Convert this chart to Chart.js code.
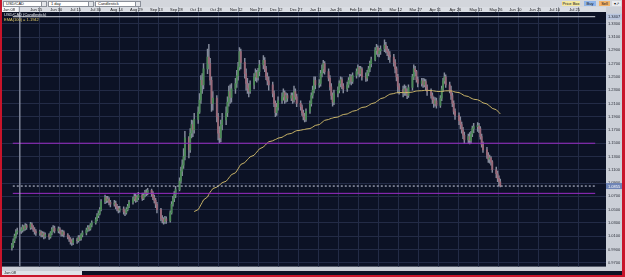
<!DOCTYPE html>
<html>
<head>
<meta charset="utf-8">
<script src="https://cdn.jsdelivr.net/npm/chart.js@4.4.0/dist/chart.umd.min.js"></script>
<style>
  body { margin: 0; width: 625px; height: 277px; overflow: hidden; background: #c8142a; font-family: 'Liberation Sans', Arial, sans-serif; }
  #bar { position: absolute; left: 2px; top: 0; width: 620px; height: 7px; background: #d3d6dc; }
  .dd { position: absolute; top: 1px; height: 4px; background: #fff; border: 1px solid #8a8f99; font-size: 4px; line-height: 4px; padding-left: 2px; color: #111; box-sizing: content-box; }
  .dd b { position: absolute; right: 0; top: 0; width: 4px; height: 4px; background: #e4e6ea; border-left: 1px solid #8a8f99; }
  .btn { position: absolute; top: 1px; height: 5px; font-size: 4px; line-height: 5px; text-align: center; color: #111; }
  #wrap { position: absolute; left: 2px; top: 7px; width: 620px; height: 264px; }
  #foot { position: absolute; left: 2px; top: 271px; width: 620px; height: 4px; background: #0c1225; }
  #foot span { position: absolute; left: 0; top: 0; width: 78px; height: 4px; background: #dfe2e8; font-size: 4px; line-height: 4px; padding-left: 2px; color: #222; }
</style>
</head>
<body>
<div id="bar">
  <div class="dd" style="left:1px;width:40px">USD/CAD<b></b></div>
  <div class="dd" style="left:46px;width:42px">1 day<b></b></div>
  <div class="dd" style="left:93px;width:42px">Candlestick<b></b></div>
  <div class="btn" style="left:560px;width:18px;background:#f4e8a0">Price Box</div>
  <div class="btn" style="left:582px;width:12px;background:#8fb4e8">Buy</div>
  <div class="btn" style="left:597px;width:11px;background:#f2b36a">Sell</div>
  <div class="btn" style="left:610px;width:9px;background:#e8eaee">▾↗</div>
</div>
<div id="wrap"><canvas id="c" width="620" height="264"></canvas></div>
<div id="foot"><span>Jun 08</span></div>
<script>
// ===== data: USD/CAD daily candles, Jun 2 2008 .. Jun 4 2009 =====
const firstOpen = 0.992;
const closes = [
  0.996,1.003,1.010,1.016,1.018, 1.019,1.024,1.021,1.026,1.023, 1.028,1.024,1.020,1.017,1.015,
  1.016,1.012,1.014,1.010,1.012, 1.009,1.015,1.020,1.022,1.018, 1.021,1.017,1.013,1.016,1.012,
  1.009,1.006,1.002,1.000,1.004, 1.003,1.008,1.006,1.012,1.015, 1.019,1.023,1.021,1.027,1.030,
  1.035,1.041,1.044,1.050,1.062, 1.068,1.064,1.066,1.061,1.058, 1.060,1.055,1.052,1.049,1.051,
  1.047,1.045,1.050,1.055,1.061, 1.066,1.070,1.064,1.068,1.072, 1.067,1.072,1.076,1.074,1.079,
  1.074,1.068,1.064,1.058,1.050, 1.037,1.035,1.032,1.036,1.033, 1.045,1.058,1.066,1.072,1.080,
  1.093,1.108,1.117,1.130,1.158, 1.140,1.165,1.178,1.170,1.186, 1.197,1.215,1.245,1.238,1.262,
  1.280,1.270,1.245,1.210,1.218, 1.190,1.165,1.158,1.178,1.185, 1.196,1.212,1.228,1.219,1.232,
  1.240,1.252,1.265,1.288,1.272, 1.255,1.240,1.233,1.228,1.238, 1.250,1.256,1.249,1.258,1.268,
  1.275,1.262,1.250,1.244,1.238, 1.225,1.210,1.196,1.204,1.214, 1.220,1.226,1.215,1.222,1.218,
  1.222,1.215,1.228,1.220,1.210, 1.205,1.196,1.190,1.186,1.198, 1.210,1.222,1.230,1.245,1.238,
  1.240,1.255,1.262,1.270,1.258, 1.248,1.235,1.222,1.212,1.225, 1.230,1.240,1.246,1.236,1.232,
  1.238,1.245,1.250,1.243,1.252, 1.258,1.264,1.255,1.262,1.250, 1.248,1.256,1.262,1.270,1.276,
  1.290,1.294,1.285,1.289,1.292, 1.298,1.292,1.288,1.283,1.280, 1.272,1.262,1.250,1.236,1.231,
  1.226,1.232,1.228,1.222,1.234, 1.250,1.262,1.258,1.246,1.240, 1.244,1.238,1.243,1.235,1.228,
  1.222,1.216,1.210,1.214,1.207, 1.218,1.232,1.244,1.250,1.238, 1.230,1.222,1.210,1.198,1.192,
  1.184,1.178,1.170,1.162,1.155, 1.160,1.154,1.164,1.172,1.175, 1.176,1.172,1.160,1.148,1.140,
  1.132,1.126,1.128,1.122,1.110, 1.104,1.097,1.092,1.0855
];
const highs = [
  0.999,1.006,1.013,1.020,1.022, 1.023,1.027,1.026,1.029,1.028, 1.031,1.030,1.026,1.023,1.020,
  1.019,1.018,1.017,1.016,1.015, 1.014,1.017,1.023,1.026,1.025, 1.024,1.023,1.019,1.019,1.018,
  1.014,1.011,1.008,1.005,1.007, 1.007,1.011,1.011,1.014,1.018, 1.022,1.026,1.026,1.029,1.033,
  1.038,1.044,1.048,1.053,1.065, 1.072,1.070,1.070,1.068,1.064, 1.064,1.063,1.058,1.055,1.055,
  1.054,1.050,1.053,1.058,1.064, 1.069,1.074,1.073,1.071,1.076, 1.075,1.075,1.079,1.080,1.082,
  1.081,1.077,1.072,1.067,1.061, 1.052,1.041,1.038,1.040,1.039, 1.048,1.062,1.070,1.077,1.085,
  1.098,1.114,1.125,1.142,1.168, 1.160,1.172,1.185,1.184,1.195, 1.205,1.225,1.252,1.255,1.270,
  1.292,1.299,1.278,1.250,1.228, 1.222,1.195,1.175,1.185,1.195, 1.205,1.220,1.236,1.238,1.240,
  1.248,1.260,1.272,1.294,1.292, 1.278,1.262,1.248,1.240,1.244, 1.255,1.262,1.260,1.263,1.275,
  1.282,1.279,1.266,1.256,1.250, 1.242,1.229,1.214,1.210,1.220, 1.226,1.232,1.229,1.226,1.225,
  1.226,1.226,1.236,1.232,1.224, 1.214,1.208,1.200,1.195,1.202, 1.214,1.226,1.236,1.250,1.250,
  1.246,1.260,1.268,1.275,1.273, 1.262,1.252,1.240,1.226,1.230, 1.235,1.244,1.250,1.249,1.240,
  1.242,1.249,1.254,1.253,1.256, 1.262,1.268,1.266,1.266,1.264, 1.256,1.260,1.266,1.274,1.280,
  1.294,1.299,1.297,1.293,1.297, 1.306,1.302,1.296,1.292,1.288, 1.284,1.276,1.265,1.254,1.240,
  1.236,1.238,1.236,1.232,1.238, 1.254,1.268,1.266,1.260,1.250, 1.248,1.248,1.247,1.246,1.238,
  1.232,1.226,1.220,1.219,1.218, 1.222,1.236,1.248,1.256,1.253, 1.242,1.236,1.226,1.214,1.202,
  1.196,1.190,1.182,1.174,1.167, 1.164,1.166,1.168,1.176,1.180, 1.181,1.180,1.175,1.164,1.152,
  1.144,1.136,1.132,1.130,1.124, 1.114,1.108,1.101,1.096
];
const lows = [
  0.989,0.993,1.000,1.007,1.013, 1.014,1.016,1.018,1.019,1.020, 1.020,1.021,1.017,1.013,1.011,
  1.011,1.009,1.009,1.006,1.007, 1.005,1.007,1.012,1.017,1.015, 1.015,1.014,1.010,1.010,1.009,
  1.006,1.002,0.998,0.996,0.997, 0.999,1.001,1.003,1.004,1.009, 1.012,1.017,1.018,1.019,1.024,
  1.028,1.033,1.038,1.042,1.048, 1.059,1.060,1.061,1.057,1.054, 1.055,1.051,1.048,1.045,1.046,
  1.043,1.041,1.043,1.048,1.053, 1.058,1.063,1.061,1.062,1.065, 1.064,1.065,1.069,1.071,1.072,
  1.070,1.065,1.060,1.053,1.045, 1.033,1.030,1.028,1.029,1.029, 1.031,1.043,1.055,1.062,1.068,
  1.078,1.090,1.101,1.112,1.125, 1.128,1.136,1.158,1.160,1.165, 1.180,1.195,1.210,1.225,1.232,
  1.255,1.262,1.238,1.198,1.200, 1.182,1.155,1.151,1.152,1.170, 1.178,1.190,1.206,1.210,1.212,
  1.225,1.234,1.245,1.260,1.262, 1.248,1.230,1.225,1.220,1.225, 1.232,1.244,1.242,1.245,1.252,
  1.262,1.258,1.246,1.238,1.230, 1.220,1.205,1.190,1.192,1.200, 1.210,1.215,1.210,1.212,1.213,
  1.214,1.210,1.212,1.216,1.205, 1.200,1.192,1.185,1.182,1.183, 1.195,1.206,1.218,1.226,1.232,
  1.234,1.236,1.250,1.256,1.254, 1.244,1.230,1.216,1.206,1.208, 1.220,1.226,1.235,1.232,1.226,
  1.228,1.234,1.240,1.238,1.240, 1.248,1.254,1.250,1.252,1.245, 1.243,1.244,1.252,1.258,1.265,
  1.274,1.284,1.281,1.280,1.284, 1.288,1.286,1.282,1.276,1.272, 1.266,1.256,1.244,1.226,1.224,
  1.220,1.222,1.222,1.217,1.219, 1.230,1.246,1.252,1.242,1.235, 1.236,1.234,1.235,1.230,1.222,
  1.218,1.210,1.204,1.206,1.203, 1.204,1.214,1.228,1.240,1.234, 1.226,1.216,1.205,1.194,1.186,
  1.178,1.172,1.165,1.157,1.150, 1.150,1.149,1.150,1.160,1.166, 1.168,1.166,1.156,1.144,1.136,
  1.127,1.121,1.120,1.117,1.106, 1.098,1.092,1.086,1.0840
];
// date axis: days counted from Jun 1 2008
const tickDays = [14,29,44,59,74,89,104,119,134,149,164,179,194,209,224,239,254,269,284,299,314,329,344,359,374,389,404,419];
const tickLabels = ['Jun 15','Jun 30','Jul 15','Jul 30','Aug 14','Aug 29','Sep 13','Sep 28','Oct 13','Oct 28','Nov 12','Nov 27','Dec 12','Dec 27',
  'Jan 11','Jan 26','Feb 10','Feb 25','Mar 12','Mar 27','Apr 11','Apr 26','May 11','May 26','Jun 10','Jun 25','Jul 10','Jul 25'];
const priceTicks = [0.97,0.99,1.01,1.03,1.05,1.07,1.09,1.11,1.13,1.15,1.17,1.19,1.21,1.23,1.25,1.27,1.29,1.31,1.33];
const purpleLevels = [1.1500, 1.0745];
const lastPrice = 1.0855;
const crossPrice = 1.3407;
const crossDay = 7;
const crossLabel = 'Jun 08';
const emaPeriod = 100;

// ===== derived =====
const opens = closes.map((c, i) => i ? closes[i - 1] : firstOpen);
const days = closes.map((c, i) => 1 + Math.floor(i / 5) * 7 + (i % 5));
const up = closes.map((c, i) => c >= opens[i]);

const ema = [];
let e = null;
closes.forEach((c, i) => {
  if (i === emaPeriod - 1) {
    e = closes.slice(0, emaPeriod).reduce((a, b) => a + b, 0) / emaPeriod;
  } else if (i >= emaPeriod) {
    e = c * 2 / (emaPeriod + 1) + e * (1 - 2 / (emaPeriod + 1));
  }
  if (e !== null) ema.push({ x: days[i], y: e });
});

const X_MIN = 1.667, X_MAX = 439.35;
const Y_MIN = 0.9641, Y_MAX = 1.3478;
const FONT = '"Liberation Sans", Arial, sans-serif';

function hline(v, color, dash) {
  return {
    type: 'line', data: [{ x: X_MIN, y: v }, { x: X_MAX, y: v }],
    borderColor: color, borderWidth: 1, borderDash: dash || [], pointRadius: 0, order: 0
  };
}

const panelPlugin = {
  id: 'panel',
  beforeDraw(chart) {
    const { ctx, chartArea: a } = chart;
    ctx.save();
    ctx.fillStyle = '#cbcfd7';
    ctx.fillRect(0, 0, chart.width, chart.height);
    ctx.fillStyle = '#dadde3';
    ctx.fillRect(0, 0, a.right, a.top);
    ctx.fillStyle = '#0c1225';
    ctx.fillRect(a.left, a.top, a.right - a.left, a.bottom - a.top);
    ctx.restore();
  },
  afterDraw(chart) {
    const { ctx, chartArea: a, scales } = chart;
    ctx.save();
    ctx.font = '4px ' + FONT;
    ctx.textBaseline = 'middle';
    // overlay texts
    ctx.fillStyle = '#e6e8ee';
    ctx.fillText('USD/CAD (Candlestick)', a.left + 2, a.top + 2.5);
    ctx.fillStyle = '#e6cf6a';
    ctx.fillText('EMA(' + emaPeriod + ') = ' + ema[ema.length - 1].y.toFixed(4), a.left + 2, a.top + 8);
    // crosshair date box on top axis
    ctx.fillStyle = '#f4f5f8';
    ctx.fillRect(0, 0, 16, a.top);
    ctx.fillStyle = '#222';
    ctx.fillText(crossLabel, 1, a.top / 2 + 0.5);
    // price boxes on right axis
    const boxes = [[crossPrice, '#b9c6de', '#1a1f2c'], [lastPrice, '#6e84b6', '#ffffff']];
    boxes.forEach(([p, bg, fg]) => {
      const y = scales.y.getPixelForValue(p);
      ctx.fillStyle = bg;
      ctx.fillRect(a.right, y - 3, chart.width - a.right, 6);
      ctx.fillStyle = fg;
      ctx.fillText(p.toFixed(4), a.right + 2, y + 0.5);
    });
    ctx.restore();
  }
};

const ctx = document.getElementById('c').getContext('2d');
new Chart(ctx, {
  type: 'bar',
  data: {
    datasets: [
      hline(crossPrice, '#d8dbe4'),
      {
        type: 'line', data: [{ x: crossDay, y: Y_MIN }, { x: crossDay, y: Y_MAX }],
        borderColor: '#aeb3c2', borderWidth: 1, pointRadius: 0, order: 0
      },
      hline(purpleLevels[0], '#9a2cc6'),
      hline(purpleLevels[1], '#9a2cc6'),
      hline(lastPrice, '#d0d4e6', [2, 2]),
      {
        type: 'line', data: ema, borderColor: '#c9b468', borderWidth: 1, pointRadius: 0, order: 1
      },
      {
        data: closes.map((c, i) => ({ x: days[i], y: [Math.min(lows[i], opens[i], c), Math.max(highs[i], opens[i], c)] })),
        backgroundColor: '#858c9c', barThickness: 0.8, grouped: false, order: 3
      },
      {
        data: closes.map((c, i) => ({ x: days[i], y: [Math.min(opens[i], c), Math.max(opens[i], c)] })),
        backgroundColor: up.map(u => u ? '#4b8a56' : '#9a6878'),
        barThickness: 1.2, minBarLength: 1, grouped: false, order: 2
      }
    ]
  },
  options: {
    responsive: false,
    devicePixelRatio: 1,
    animation: false,
    events: [],
    layout: { padding: 0, autoPadding: false },
    plugins: { legend: { display: false }, tooltip: { enabled: false } },
    scales: {
      x: {
        type: 'linear', position: 'top', min: X_MIN, max: X_MAX,
        afterBuildTicks: s => { s.ticks = tickDays.map(v => ({ value: v })); },
        afterFit: s => { s.height = 5; },
        grid: { color: '#232b46', tickLength: 5, tickColor: '#9aa0ac', lineWidth: 1 },
        border: { display: false },
        ticks: {
          autoSkip: false, maxRotation: 0, align: 'start', padding: -5,
          color: '#222', font: { size: 4, family: FONT },
          callback: (v, i) => ' ' + (tickLabels[i] || '')
        }
      },
      y: {
        position: 'right', min: Y_MIN, max: Y_MAX,
        afterBuildTicks: s => { s.ticks = priceTicks.map(v => ({ value: v })); },
        afterFit: s => { s.width = 16; },
        grid: { color: '#232b46', drawTicks: false },
        border: { display: false },
        ticks: {
          padding: 2, color: '#2a2e38', font: { size: 4, family: FONT },
          callback: v => v.toFixed(4)
        }
      }
    }
  },
  plugins: [panelPlugin]
});
</script>
</body>
</html>
